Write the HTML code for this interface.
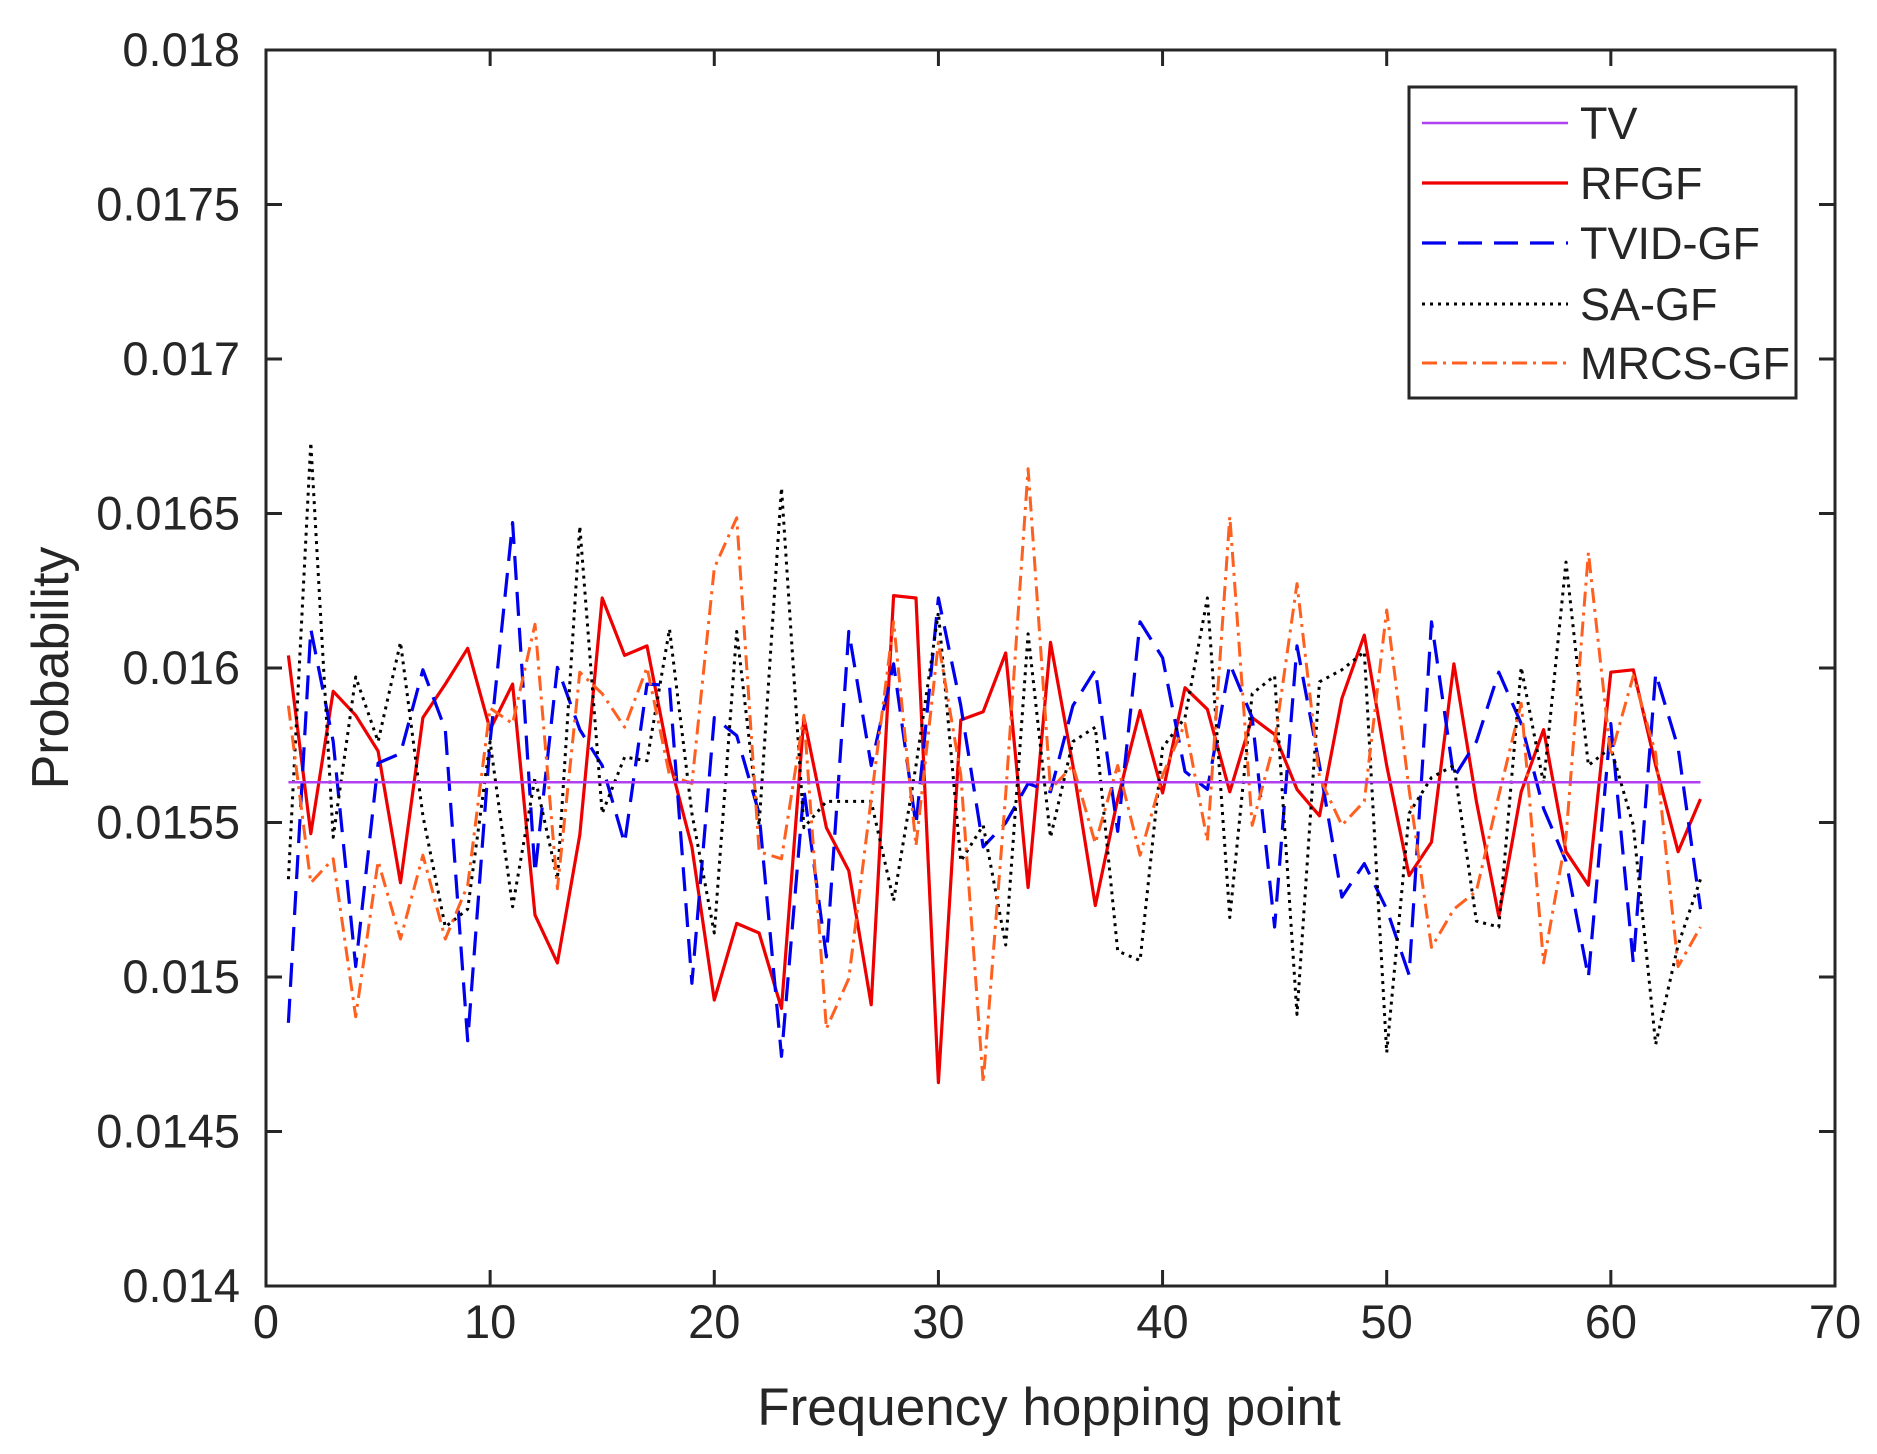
<!DOCTYPE html>
<html><head><meta charset="utf-8"><style>
html,body{margin:0;padding:0;background:#fff;}
svg text{font-family:"Liberation Sans",Arial,sans-serif;fill:#262626;}
</style></head><body>
<svg id="s" width="1877" height="1449" viewBox="0 0 1877 1449" xmlns="http://www.w3.org/2000/svg">
<rect width="1877" height="1449" fill="#fff"/>
<g id="series" fill="none" stroke-linejoin="round"></g>
<rect x="266" y="50" width="1569" height="1236" fill="none" stroke="#262626" stroke-width="3"/>
<g id="ticks" stroke="#262626" stroke-width="3"></g>
<g id="labels" font-size="47"></g>
<text x="1049" y="1425" font-size="53" text-anchor="middle">Frequency hopping point</text>
<text transform="translate(68,668) rotate(-90)" font-size="52" text-anchor="middle">Probability</text>
<rect x="1409" y="87" width="387" height="311" fill="#fff" stroke="#262626" stroke-width="3"/>
<g id="legend"></g>
</svg>
<script>
var NS="http://www.w3.org/2000/svg";
function el(t,a,p){var e=document.createElementNS(NS,t);for(var k in a)e.setAttribute(k,a[k]);p.appendChild(e);return e;}
function X(i){return 266+i*22.414;}
function Y(yd){return 50+(yd-42)*1.1965;}
var S=[
{c:"#b040f0",w:2.6,d:"",v:null},
{c:"#ee0000",w:3.2,d:"",v:[548,697,578,598,628,738,600,572,542,610,572,765,805,698,500,548,540,636,708,836,772,780,843,600,692,728,840,498,500,905,602,595,546,742,537,640,757,668,594,663,575,593,662,600,614,660,682,584,531,640,732,704,555,670,766,662,610,712,740,562,560,640,712,668]},
{c:"#0000ee",w:3.2,d:"24 12",v:[855,526,620,808,638,630,560,610,870,620,437,730,558,610,640,705,572,573,822,600,615,680,883,660,800,528,640,555,690,500,590,708,688,655,662,590,560,695,520,550,645,660,555,600,775,540,640,750,722,760,815,520,650,620,562,605,676,720,817,605,805,563,625,760]},
{c:"#000000",w:3,d:"3 5",v:[735,370,700,566,620,537,682,775,760,620,758,650,735,440,680,633,636,526,680,780,528,690,408,692,670,670,670,753,640,512,720,690,790,530,700,620,608,795,803,625,600,500,767,580,565,848,570,560,545,880,680,650,640,770,775,558,655,470,640,625,690,873,790,735]},
{c:"#ff6020",w:3,d:"15 6 3 6",v:[590,738,718,850,720,785,715,785,740,592,605,522,743,562,580,608,558,648,655,475,433,712,718,598,860,818,668,520,707,537,648,905,664,392,660,640,705,640,715,648,605,703,432,690,620,488,650,690,670,510,660,792,760,745,665,588,805,700,462,632,565,630,808,775]}
];
var g=document.getElementById("series");
[1,2,3,4,0].forEach(function(k){var s=S[k];var pts=[];
 if(!s.v){pts=[X(1)+","+Y(654),X(64)+","+Y(654)];}
 else s.v.forEach(function(v,i){pts.push(X(i+1).toFixed(1)+","+Y(v).toFixed(1));});
 var a={points:pts.join(" "),stroke:s.c,"stroke-width":s.w};if(s.d)a["stroke-dasharray"]=s.d;
 el("polyline",a,g);});
var t=document.getElementById("ticks"),L=document.getElementById("labels");
for(var i=0;i<=7;i++){var x=266+i*224.14;
 el("line",{x1:x,y1:1286,x2:x,y2:1270},t);el("line",{x1:x,y1:50,x2:x,y2:66},t);
 var tx=el("text",{x:x,y:1338,"text-anchor":"middle"},L);tx.textContent=(i*10);}
var yl=["0.014","0.0145","0.015","0.0155","0.016","0.0165","0.017","0.0175","0.018"];
for(var j=0;j<=8;j++){var y=1286-j*154.5;
 el("line",{x1:266,y1:y,x2:282,y2:y},t);el("line",{x1:1835,y1:y,x2:1819,y2:y},t);
 var ty=el("text",{x:240,y:y+16,"text-anchor":"end"},L);ty.textContent=yl[j];}
var lg=document.getElementById("legend"),names=["TV","RFGF","TVID-GF","SA-GF","MRCS-GF"],ly=[123,183,243,304,363];
for(var k=0;k<5;k++){var s=S[k];var a={x1:1422,y1:ly[k],x2:1568,y2:ly[k],stroke:s.c,"stroke-width":s.w};if(s.d)a["stroke-dasharray"]=s.d;
 el("line",a,lg);var tt=el("text",{x:1580,y:ly[k]+16,"font-size":45},lg);tt.textContent=names[k];}
</script>
</body></html>
